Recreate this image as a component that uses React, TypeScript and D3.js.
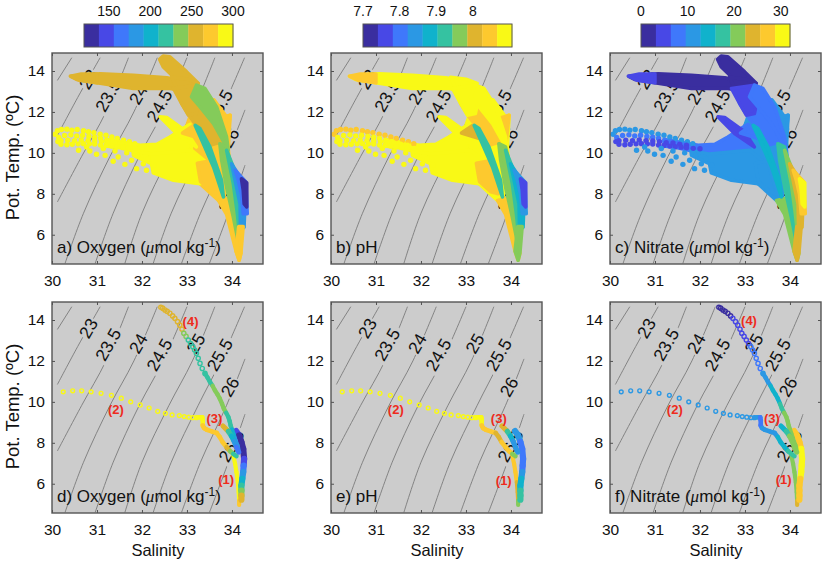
import { useEffect, useRef } from 'react';
import * as d3 from 'd3';

type Pt = [number, number];

const parula = ['#3a2e9f', '#4848e6', '#3f78fb', '#2b98e4', '#10b2cc', '#35c2a1', '#84cb5a', '#dfb42e', '#fdc92e', '#f9f916'];

// isopycnals (salinity, temperature)
const isoLevels = ['22.5', '23', '23.5', '24', '24.5', '25', '25.5', '26', '26.5'];
const isoLines: Pt[][] = [
  [[30.12, 13.54], [30.44, 14.65]],
  [[30.12, 10.85], [30.57, 12.7], [31.07, 14.65]],
  [[30.12, 7.6], [30.66, 9.83], [31.2, 12], [31.7, 14.65]],
  [[30.29, 4.6], [30.7, 7.05], [31.29, 9.83], [31.82, 12], [32.34, 14.65]],
  [[30.96, 4.6], [31.36, 7.05], [31.94, 9.83], [32.47, 12], [33.0, 14.65]],
  [[31.62, 4.6], [32.0, 7.05], [32.6, 9.83], [33.12, 12], [33.62, 14.65]],
  [[32.25, 4.6], [32.65, 7.05], [33.25, 9.83], [33.75, 12], [34.28, 14.65]],
  [[32.88, 4.6], [33.3, 7.05], [33.88, 9.83], [34.29, 12.1]],
  [[33.5, 4.6], [33.92, 7.05], [34.29, 9.4]],
];
const isoLabelText = ['23', '23.5', '24', '24.5', '25', '25.5', '26', '26.5'];
const isoLabelPos: Pt[] = [
  [30.81, 13.6], [31.25, 12.8], [31.92, 12.85], [32.39, 12.3], [33.2, 12.85], [33.73, 12.3], [33.96, 10.73], [33.99, 7.85],
];

const fanUpper: Pt[] = [[31.2, 10.65], [31.5, 10.55], [31.96, 10.37], [32.33, 10.42], [32.62, 10.78], [32.99, 11.3], [33.07, 11.4], [33.1, 10.13], [32.7, 10.0], [32.2, 9.95], [31.8, 10.1], [31.5, 10.25], [31.2, 10.33]];
const fanLower: Pt[] = [[31.8, 10.1], [32.2, 9.95], [33.1, 10.13], [33.4, 9.6], [33.29, 8.49], [32.7, 8.66], [32.25, 9.02], [32.21, 9.47], [31.81, 9.88]];
const fanEast: Pt[] = [[33.0, 11.35], [33.1, 12.0], [33.3, 12.6], [33.6, 12.6], [33.88, 11.76], [33.96, 11.84], [33.92, 10.2], [33.95, 9.4], [33.81, 7.68], [33.7, 7.68], [33.29, 8.49], [33.1, 10.13]];
const fanSouth: Pt[] = [[33.23, 9.5], [33.5, 9.6], [33.72, 8.0], [33.55, 8.1], [33.3, 8.6]];
const eastFringe: Pt[] = [[33.75, 11.7], [33.96, 11.84], [33.88, 10.29], [33.78, 10.6]];
const tail: Pt[] = [[33.7, 7.68], [33.88, 7.0], [34.09, 5.2], [34.16, 4.75], [34.2, 5.1], [34.12, 6.5], [33.95, 7.8]];
const upperArm: Pt[] = [[30.41, 13.75], [31.07, 13.87], [31.81, 13.79], [32.55, 13.67], [33.21, 13.4], [32.77, 13.1], [32.62, 13.15], [31.81, 13.15], [31.07, 13.4], [30.55, 13.59]];
const armTip: Pt[] = [[30.41, 13.75], [30.65, 13.85], [31.0, 13.85], [31.0, 13.42], [30.6, 13.55]];
const topBlob: Pt[] = [[32.39, 14.57], [32.47, 14.73], [32.62, 14.7], [32.99, 13.97], [33.25, 13.4], [33.1, 12.74], [32.77, 13.2], [32.66, 13.8], [32.47, 14.21]];
const bend: Pt[] = [[32.66, 13.7], [33.0, 13.6], [33.25, 13.4], [33.1, 12.74], [32.77, 13.15]];
const wedge: Pt[] = [[32.4, 11.76], [32.55, 11.73], [32.99, 11.03], [33.21, 10.29], [32.77, 10.94], [32.51, 11.52]];
const patch: Pt[] = [[32.9, 10.97], [33.23, 11.46], [33.41, 10.94], [33.3, 10.7]];
const midBand: Pt[] = [[32.84, 12.74], [33.1, 12.74], [33.29, 12.25], [33.62, 11.43], [33.81, 11.03], [33.77, 10.54], [33.51, 10.37], [33.29, 11.11], [33.07, 11.76], [32.88, 12.41]];
const shoulder: Pt[] = [[32.7, 13.15], [33.21, 13.31], [33.29, 12.74], [33.21, 11.92], [33.03, 11.84], [32.84, 12.58]];
const upperBand: Pt[] = [[33.21, 13.31], [33.4, 13.15], [33.66, 12.25], [33.88, 10.78], [33.92, 10.13], [33.59, 11.43], [33.29, 12.25], [33.1, 12.74]];
const innerStrip: Pt[] = [[33.18, 11.35], [33.29, 11.19], [33.51, 10.29], [33.77, 8.66], [33.81, 7.84], [33.59, 9.31], [33.33, 10.62]];
const coreA: Pt[] = [[33.73, 10.45], [33.88, 10.29], [34.03, 8.98], [34.14, 7.35], [34.21, 6.04], [34.18, 5.23], [34.03, 6.86], [33.88, 8.33], [33.77, 9.64]];
const coreB: Pt[] = [[33.88, 10.13], [34.03, 9.31], [34.18, 8.33], [34.25, 6.86], [34.19, 5.55], [34.12, 7.02], [34.03, 8.49]];
const coreC: Pt[] = [[33.99, 9.47], [34.18, 8.82], [34.29, 7.51], [34.27, 6.37], [34.19, 6.21], [34.18, 7.51], [34.07, 8.66]];
const coreD: Pt[] = [[34.07, 9.15], [34.31, 8.58], [34.34, 7.02], [34.25, 7.02], [34.21, 8.0], [34.14, 8.66]];
const coreE: Pt[] = [[34.21, 8.74], [34.33, 8.53], [34.33, 7.35], [34.27, 7.51], [34.25, 8.17]];
const bottomTip: Pt[] = [[34.09, 5.2], [34.16, 4.75], [34.2, 5.1], [34.25, 6.4], [34.15, 6.4]];

const cloudRegions = [fanEast, fanUpper, fanLower, fanSouth, eastFringe, tail, upperArm, armTip, topBlob, bend, wedge, patch, midBand, shoulder, upperBand, innerStrip, coreA, coreB, coreC, coreD, coreE, bottomTip];
const cloudOxygen = [270, 295, 295, 270, 270, 270, 255, 255, 255, 255, 295, 270, 255, 255, 235, 215, 235, 215, 185, 165, 130, 270];
const cloudPH = [8.09, 8.09, 8.09, 8.05, 8.05, 8.05, 8.09, 8.05, NaN, 8.09, 8.09, 8.0, 8.05, 8.09, 8.09, 7.92, 7.97, 7.92, 7.88, 7.84, 7.77, 7.96];
const cloudNitrate = [10, 8, 11, 12, 11, 20, 2, 5, 2, 2, 5, 8, 8, 5, 8, 14, 17, 20, 24, 27, 30, 24];

// surface layer dots, left end of the cloud
const armTop: Pt[] = [[30.07, 10.91], [30.12, 11.08], [30.21, 11.14], [30.33, 11.16], [30.44, 11.11], [30.56, 11.14], [30.7, 11.08], [30.81, 11.03], [30.93, 10.99], [31.07, 10.91], [31.2, 10.86], [31.33, 10.78], [31.45, 10.7], [31.59, 10.62], [31.72, 10.54], [31.84, 10.45]];
const armInner: Pt[] = [[30.15, 10.75], [30.28, 10.85], [30.42, 10.88], [30.55, 10.83], [30.68, 10.86], [30.82, 10.8], [30.95, 10.76], [31.08, 10.7], [31.22, 10.62], [31.35, 10.55], [31.5, 10.45]];
const armInner2: Pt[] = [[30.2, 10.6], [30.35, 10.62], [30.5, 10.6], [30.65, 10.63], [30.8, 10.6], [30.95, 10.58], [31.1, 10.55], [31.25, 10.5], [31.4, 10.48], [31.55, 10.42], [31.7, 10.38]];
const armLow: Pt[] = [[30.13, 10.55], [30.2, 10.42], [30.33, 10.4], [30.45, 10.42], [30.58, 10.44], [30.7, 10.45], [30.83, 10.44], [30.95, 10.43], [31.08, 10.38], [31.2, 10.36], [31.33, 10.33], [31.45, 10.3], [31.58, 10.28], [31.7, 10.25], [31.85, 10.22], [32, 10.2]];
const armScatter: Pt[] = [[30.59, 10.13], [30.84, 10.09], [30.99, 9.93], [31.18, 9.88], [31.36, 9.59], [31.47, 9.8], [31.62, 9.44], [31.77, 9.64], [31.88, 9.23], [32.03, 9.47], [32.1, 9.15], [32.27, 9.39], [30.77, 10.29], [31.14, 10.21], [31.4, 10.09], [31.66, 10.0], [31.9, 9.88], [32.14, 9.72]];
const armRows = [armTop, armInner, armInner2, armLow, armScatter];
const armOxygen = [295, 295, 295, 295, 295];
const armPH = [8.05, 8.09, 8.09, 8.09, 8.09];
const armNitrate = [10, 9, 6, 5, 11];

// single station profile, panels d-f. Each segment: points + oxygen, pH, nitrate
const surfacePts: Pt[] = [[30.25, 10.49], [30.46, 10.54], [30.66, 10.54], [30.87, 10.49], [31.09, 10.42], [31.32, 10.32], [31.54, 10.18], [31.75, 10.0], [31.96, 9.85], [32.16, 9.7], [32.35, 9.54], [32.52, 9.44], [32.67, 9.36], [32.83, 9.33], [32.94, 9.28], [33.04, 9.25], [33.13, 9.23], [33.21, 9.23]];
const surfaceO = [295, 295, 295, 295, 295, 295, 295, 295, 295, 295, 295, 295, 295, 295, 295, 295, 295, 295];
const surfaceH = [8.09, 8.09, 8.09, 8.09, 8.09, 8.09, 8.09, 8.09, 8.09, 8.09, 8.09, 8.09, 8.09, 8.09, 8.09, 8.09, 8.09, 8.09];
const surfaceN = [11, 11, 11, 11, 11, 11, 11, 11, 11, 11, 11, 11, 11, 11, 11, 11, 11, 11];

const stepPts: Pt[] = [[33.21, 9.23], [33.29, 9.25], [33.34, 9.25], [33.35, 9.1], [33.35, 8.85], [33.38, 8.72], [33.44, 8.64], [33.55, 8.56], [33.66, 8.48], [33.73, 8.28], [33.79, 8.04], [33.88, 7.79], [33.96, 7.59], [34.03, 7.46], [34.1, 7.35]];
const stepO = [295, 295, 295, 295, 295, 270, 270, 270, 270, 270, 270, 270, 255, 235, 215];
const stepH = [8.09, 8.09, 8.09, 8.09, 8.09, 8.05, 8.05, 8.05, 8.05, 8.0, 8.0, 8.05, 8.05, 8.05, 7.97];
const stepN = [11, 11, 11, 8, 8, 8, 11, 11, 11, 11, 14, 14, 14, 17, 17];

const thermoHighPts: Pt[] = [[32.42, 14.62], [32.46, 14.58], [32.51, 14.49], [32.56, 14.42], [32.62, 14.33], [32.68, 14.2], [32.73, 14.08], [32.79, 13.92], [32.84, 13.75], [32.89, 13.55], [32.93, 13.35], [32.98, 13.2], [33.03, 13.02], [33.08, 12.85], [33.13, 12.69], [33.17, 12.53], [33.21, 12.37], [33.25, 12.13], [33.29, 11.88], [33.34, 11.63], [33.4, 11.39]];
const thermoHighO = [255, 255, 255, 255, 255, 255, 255, 255, 255, 255, 235, 235, 218, 218, 218, 218, 218, 218, 218, 218, 218];
const thermoHighH = thermoHighO.map(() => NaN);
const thermoHighN = [2, 2, 2, 2, 2, 2, 5, 5, 5, 5, 5, 5, 5, 5, 8, 8, 8, 8, 8, 8, 11];

const thermoLowPts: Pt[] = [[33.4, 11.39], [33.46, 11.18], [33.51, 10.98], [33.57, 10.78], [33.62, 10.57], [33.68, 10.36], [33.73, 10.16], [33.78, 9.9], [33.82, 9.67], [33.87, 9.47], [33.92, 9.26], [33.95, 9.05], [33.97, 8.85], [34.0, 8.65], [34.03, 8.44], [34.06, 8.24], [34.09, 8.04], [34.12, 7.88], [34.14, 7.71]];
const thermoLowO = [218, 218, 218, 218, 235, 235, 235, 235, 235, 235, 215, 215, 215, 215, 200, 200, 175, 175, 175];
const thermoLowH = thermoLowO.map(() => NaN);
const thermoLowN = [11, 11, 11, 11, 14, 14, 14, 14, 17, 17, 20, 20, 20, 20, 20, 20, 20, 21, 21];

const neckPts: Pt[] = [[33.8, 8.82], [33.92, 8.56], [33.99, 8.33], [34.05, 8.07], [34.1, 7.79], [34.15, 7.55]];
const neckO = [270, 255, 215, 195, 175, 165];
const neckH = [8.05, 8.0, 7.92, 7.88, 7.85, 7.83];
const neckN = [10, 14, 18, 21, 21, 22];

const deepPts: Pt[] = [[34.09, 8.58], [34.16, 8.36], [34.21, 8.04], [34.25, 7.71], [34.27, 7.22], [34.26, 6.89], [34.25, 6.57], [34.23, 6.24], [34.21, 5.91], [34.21, 5.67], [34.21, 5.42], [34.21, 5.22]];
const deepO = [150, 140, 130, 130, 135, 150, 165, 180, 200, 225, 235, 250];
const deepH = [7.85, 7.85, 7.83, 7.8, 7.79, 7.79, 7.81, 7.84, 7.88, 7.9, 7.92, 7.93];
const deepN = [27, 27, 27, 27, 30, 30, 30, 30, 27, 27, 27, 27];

const returnPts: Pt[] = [[34.03, 7.38], [34.07, 6.97], [34.1, 6.57], [34.13, 6.08], [34.15, 5.59], [34.16, 5.18], [34.16, 4.96]];
const returnO = [295, 295, 295, 295, 295, 295, 270];
const returnH = [8.05, 8.05, 8.05, 8.05, 8.0, 8.0, 7.97];
const returnN = [21, 21, 21, 21, 21, 21, 24];

const profile = [
  { pts: returnPts, vals: [returnO, returnH, returnN], r: 2.1, solid: true },
  { pts: deepPts, vals: [deepO, deepH, deepN], r: 3.1, solid: true },
  { pts: surfacePts, vals: [surfaceO, surfaceH, surfaceN], r: 1.9, solid: false },
  { pts: stepPts, vals: [stepO, stepH, stepN], r: 2.3, solid: true },
  { pts: thermoHighPts, vals: [thermoHighO, thermoHighH, thermoHighN], r: 2.1, solid: false },
  { pts: thermoLowPts, vals: [thermoLowO, thermoLowH, thermoLowN], r: 2.2, solid: true },
  { pts: neckPts, vals: [neckO, neckH, neckN], r: 2.6, solid: true },
];

const redNotes = ['(1)', '(2)', '(3)', '(4)'];
const redOxygen: Pt[] = [[33.87, 6.24], [31.42, 9.67], [33.61, 9.23], [33.08, 13.97]];
const redPH: Pt[] = [[33.84, 6.2], [31.44, 9.67], [33.73, 9.23]];
const redNitrate: Pt[] = [[33.86, 6.24], [31.44, 9.67], [33.6, 9.23], [33.09, 14]];

const salinityTicks = [30, 31, 32, 33, 34];
const tempTicks = [6, 8, 10, 12, 14];

const variables = [
  { domain: [120, 300], ticks: [150, 200, 250, 300], fmt: String, cloud: cloudOxygen, arm: armOxygen, red: redOxygen, name: 'Oxygen', unit: true },
  { domain: [7.7, 8.107], ticks: [7.7, 7.8, 7.9, 8], fmt: String, cloud: cloudPH, arm: armPH, red: redPH, name: 'pH', unit: false },
  { domain: [0, 32], ticks: [0, 10, 20, 30], fmt: String, cloud: cloudNitrate, arm: armNitrate, red: redNitrate, name: 'Nitrate', unit: true },
];

const panelLeft = [52, 331, 610];
const barLeft = [84, 363, 641];
const rowTop = [53, 302];
const panelLetters = [['a)', 'b)', 'c)'], ['d)', 'e)', 'f)']];
const FONT = '"Liberation Sans", Arial, sans-serif';

export default function App() {
  const svgRef = useRef<SVGSVGElement>(null);

  useEffect(() => {
    if (!svgRef.current) return;
    const svg = d3.select(svgRef.current);
    svg.selectAll('*').remove();

    const size = 211;
    const x = d3.scaleLinear().domain([30, 34.69]).range([0, size]);
    const y = d3.scaleLinear().domain([4.57, 14.88]).range([size, 0]);
    const isoLine = d3.line<Pt>().x(d => x(d[0])).y(d => y(d[1])).curve(d3.curveCatmullRom);
    const region = d3.line<Pt>().x(d => x(d[0])).y(d => y(d[1])).curve(d3.curveLinearClosed);
    const link = d3.line<Pt>().x(d => x(d[0])).y(d => y(d[1]));

    variables.forEach((v, col) => {
      const color = d3.scaleQuantize<string>().domain(v.domain as [number, number]).range(parula);

      // colorbar
      const bx = d3.scaleLinear().domain(v.domain).range([barLeft[col], barLeft[col] + 149]);
      const step = (v.domain[1] - v.domain[0]) / parula.length;
      parula.forEach((c, i) => {
        svg.append('rect')
          .attr('x', bx(v.domain[0] + i * step))
          .attr('y', 24)
          .attr('width', bx(v.domain[0] + (i + 1) * step) - bx(v.domain[0] + i * step) + 0.3)
          .attr('height', 23)
          .attr('fill', c);
      });
      svg.append('rect')
        .attr('x', barLeft[col]).attr('y', 24).attr('width', 149).attr('height', 23)
        .attr('fill', 'none').attr('stroke', '#555').attr('stroke-width', 1);
      v.ticks.forEach(t => {
        svg.append('text')
          .attr('x', bx(t)).attr('y', 16)
          .attr('text-anchor', 'middle')
          .attr('font-family', FONT).attr('font-size', 14).attr('fill', '#111')
          .text(v.fmt(t));
      });

      rowTop.forEach((top, row) => {
        const g = svg.append('g').attr('transform', `translate(${panelLeft[col]},${top})`);
        g.append('rect').attr('width', size).attr('height', size).attr('fill', '#cccccc');

        // isopycnals and their inline labels sit under the data
        isoLines.forEach((pts, i) => {
          g.append('path')
            .attr('d', isoLine(pts))
            .attr('fill', 'none')
            .attr('stroke', '#7a7a7a')
            .attr('stroke-width', 0.9)
            .attr('data-level', isoLevels[i]);
        });
        isoLabelText.forEach((t, i) => {
          const [s, temp] = isoLabelPos[i];
          const lg = g.append('g').attr('transform', `translate(${x(s)},${y(temp)}) rotate(-60)`);
          lg.append('rect')
            .attr('x', -t.length * 4.8 - 1).attr('y', -9)
            .attr('width', t.length * 9.6 + 2).attr('height', 18)
            .attr('fill', '#cccccc');
          lg.append('text')
            .attr('text-anchor', 'middle').attr('dy', 6)
            .attr('font-family', FONT).attr('font-size', 17.5).attr('fill', '#111')
            .text(t);
        });

        if (row === 0) {
          cloudRegions.forEach((pts, i) => {
            const val = v.cloud[i];
            if (Number.isNaN(val)) return;
            g.append('path')
              .attr('d', region(pts))
              .attr('fill', color(val))
              .attr('stroke', color(val))
              .attr('stroke-width', 3.5)
              .attr('stroke-linejoin', 'round');
          });
          armRows.forEach((pts, i) => {
            g.selectAll(null).data(pts).enter().append('circle')
              .attr('cx', d => x(d[0]))
              .attr('cy', d => y(d[1]))
              .attr('r', 2.7)
              .attr('fill', color(v.arm[i]));
          });
        } else {
          profile.forEach(seg => {
            const vals = seg.vals[col];
            seg.pts.forEach((p, i) => {
              if (Number.isNaN(vals[i])) return;
              if (seg.solid && i > 0) {
                g.append('path')
                  .attr('d', link([seg.pts[i - 1], p]))
                  .attr('fill', 'none')
                  .attr('stroke', color(vals[i]))
                  .attr('stroke-width', seg.r * 2)
                  .attr('stroke-linecap', 'round');
              } else if (!seg.solid) {
                g.append('circle')
                  .attr('cx', x(p[0])).attr('cy', y(p[1]))
                  .attr('r', seg.r)
                  .attr('fill', 'none')
                  .attr('stroke', color(vals[i]))
                  .attr('stroke-width', 1.4);
              }
            });
          });
          v.red.forEach((p, i) => {
            g.append('text')
              .attr('x', x(p[0])).attr('y', y(p[1]) + 5)
              .attr('text-anchor', 'middle')
              .attr('font-family', FONT).attr('font-size', 13).attr('font-weight', 700)
              .attr('fill', '#ee2b1c')
              .text(redNotes[i]);
          });
        }

        // panel caption
        const cap = g.append('text')
          .attr('x', 5).attr('y', 200)
          .attr('font-family', FONT).attr('font-size', 17).attr('fill', '#111');
        cap.append('tspan').text(`${panelLetters[row][col]} ${v.name}`);
        if (v.unit) {
          cap.append('tspan').text(' (');
          cap.append('tspan').attr('font-style', 'italic').attr('font-family', '"Liberation Serif", serif').text('\u03bc');
          cap.append('tspan').text('mol kg');
          cap.append('tspan').attr('font-size', 12).attr('dy', -6).text('-1');
          cap.append('tspan').attr('dy', 6).text(')');
        }

        // frame and axes
        const xAxis = g.append('g').attr('transform', `translate(0,${size})`)
          .call(d3.axisBottom(x).tickValues(salinityTicks).tickSizeInner(-3).tickSizeOuter(0).tickPadding(11).tickFormat(d3.format('d') as any));
        const yAxis = g.append('g')
          .call(d3.axisLeft(y).tickValues(tempTicks).tickSizeInner(-3).tickSizeOuter(0).tickPadding(7).tickFormat(d3.format('d') as any));
        g.append('g').call(d3.axisTop(x).tickValues(salinityTicks).tickSizeInner(-3).tickSizeOuter(0).tickFormat(() => ''));
        g.append('g').attr('transform', `translate(${size},0)`)
          .call(d3.axisRight(y).tickValues(tempTicks).tickSizeInner(-3).tickSizeOuter(0).tickFormat(() => ''));
        g.selectAll('.domain').attr('stroke', 'none');
        g.selectAll('.tick line').attr('stroke', '#444').attr('stroke-width', 0.9);
        [xAxis, yAxis].forEach(a => {
          a.selectAll('text')
            .attr('font-family', FONT).attr('font-size', 15.5).attr('fill', '#111');
        });
        g.append('rect').attr('width', size).attr('height', size)
          .attr('fill', 'none').attr('stroke', '#555').attr('stroke-width', 1.4);

        if (col === 0) {
          g.append('text')
            .attr('transform', `translate(-33,${size / 2 - 1}) rotate(-90)`)
            .attr('text-anchor', 'middle')
            .attr('font-family', FONT).attr('font-size', 18.5).attr('fill', '#111')
            .text('Pot. Temp. (ºC)');
        }
        if (row === 1) {
          g.append('text')
            .attr('x', 106).attr('y', size + 43)
            .attr('text-anchor', 'middle')
            .attr('font-family', FONT).attr('font-size', 16.5).attr('fill', '#111')
            .text('Salinity');
        }
      });
    });
  }, []);

  return <svg ref={svgRef} width={829} height={563} style={{ position: 'absolute', left: 0, top: 0, background: '#fff' }} />;
}
